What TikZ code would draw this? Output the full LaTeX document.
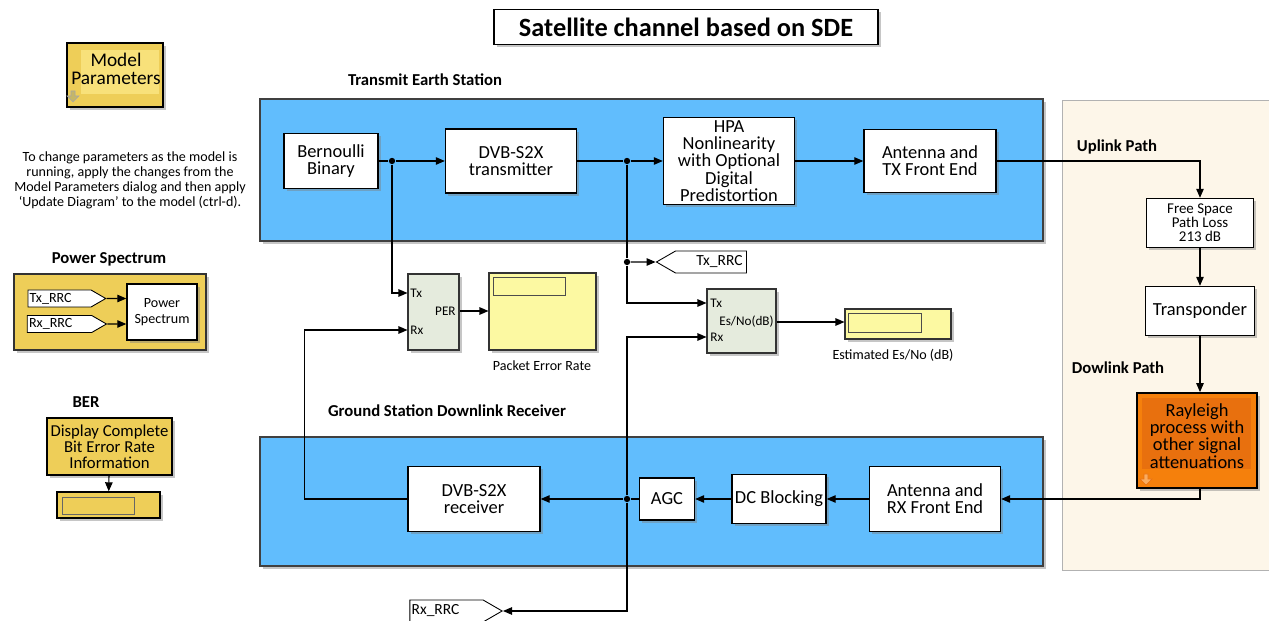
\documentclass[tikz,border=0pt]{standalone}
\usepackage{fontspec}
\setmainfont{Carlito}
\usetikzlibrary{arrows.meta,shadows,shapes.symbols}

\definecolor{stationblue}{RGB}{97,189,253}
\definecolor{satbeige}{RGB}{253,246,233}
\definecolor{paramyellow}{RGB}{238,206,88}
\definecolor{paramlight}{RGB}{248,225,122}
\definecolor{scopeyellow}{RGB}{252,249,162}
\definecolor{measgreen}{RGB}{229,235,221}
\definecolor{fadeorange}{RGB}{245,128,12}
\definecolor{fadeinner}{RGB}{232,112,14}
\definecolor{iconkhaki}{RGB}{196,182,104}
\definecolor{iconorange}{RGB}{250,172,96}

\begin{document}
\begin{tikzpicture}[x=0.02cm, y=-0.02cm, line width=0.6pt,
	every node/.style={font=\fontsize{10.5}{9.8}\selectfont, inner sep=1pt},
	>={Triangle[length=1.8mm, width=1.5mm]},
	shd/.style={drop shadow={shadow xshift=1.5pt, shadow yshift=-1.5pt, opacity=0.45}},
	wh/.style 2 args={minimum width=#1*0.02cm, minimum height=#2*0.02cm},
	block/.style={draw, fill=white, line width=0.8pt, align=center, shd},
	group/.style={draw=black!75, line width=0.7pt, shd},
	heading/.style={font=\fontsize{9.5}{10}\selectfont\bfseries},
	port/.style={font=\fontsize{7.5}{8}\selectfont, inner sep=0.5pt},
	tag/.style={draw, fill=white, signal, signal pointer angle=60, line width=0.5pt,
		font=\fontsize{8}{9}\selectfont},
	dot/.style={circle, fill, inner sep=0pt, minimum size=3.6pt},
	scr/.style={draw=black!70, fill=scopeyellow, line width=0.5pt}]
	\useasboundingbox (0,0) rectangle (1269,621);

	% title
	\node[block, wh={384}{35}, line width=1pt, font=\fontsize{15}{17}\selectfont\bfseries] (title) at (686,27) {Satellite channel based on SDE};

	% station groups and satellite area
	\node[group, fill=stationblue, wh={783}{142}] (txgrp) at (651.5,170) {};
	\node[group, fill=stationblue, wh={783}{129}] (rxgrp) at (651.5,501.5) {};
	\node[draw=black!30, fill=satbeige, line width=0.5pt, wh={230}{470}] (satgrp) at (1177,335) {};
	\node[heading] (txlbl) at (425,80) {Transmit Earth Station};
	\node[heading] (rxlbl) at (447,411) {Ground Station Downlink Receiver};
	\node[heading] (uplbl) at (1117,147) {Uplink Path};
	\node[heading] (dnlbl) at (1118,368) {Dowlink Path};

	% model parameters and notes
	\node[draw, fill=paramyellow, line width=0.8pt, wh={96}{64}, shd] (mpbox) at (115,75) {};
	\node[fill=paramlight, wh={78}{44}] (mpin) at (120,72) {};
	\node[font=\fontsize{11}{10.5}\selectfont, align=center] (mptext) at (116,69) {Model\\Parameters};
	\fill[iconkhaki, draw=black!35, line width=0.3pt] (71,91) -- (75,91) -- (75,96) -- (79,96) -- (73,102) -- (67,96) -- (71,96) -- cycle;
	\node[font=\fontsize{8}{8.6}\selectfont, align=center] (note) at (130,180) {To change parameters as the model is\\running, apply the changes from the\\Model Parameters dialog and then apply\\`Update Diagram' to the model (ctrl-d).};

	% power spectrum group
	\node[heading] (pslbl) at (109,259) {Power Spectrum};
	\node[draw=black!80, fill=paramyellow, line width=0.7pt, wh={192}{76}, shd] (psgrp) at (110,312) {};
	\node[tag, signal to=east, wh={75}{17}] (pstx) at (59.5,298.5) {Tx\_RRC\kern10pt};
	\node[tag, signal to=east, wh={75}{17}] (psrx) at (59.5,324) {Rx\_RRC\kern10pt};
	\node[block, wh={70}{56}, font=\fontsize{8}{8.8}\selectfont] (psblk) at (162,312) {Power\\Spectrum};
	\draw[->] (pstx) -- (pstx -| psblk.west);
	\draw[->] (psrx) -- (psrx -| psblk.west);

	% bit error rate
	\node[heading] (berlbl) at (86,402) {BER};
	\node[draw, fill=paramyellow, line width=0.8pt, wh={125}{57}, align=center, font=\fontsize{9.5}{9}\selectfont, shd] (berblk) at (109.5,446.5) {Display Complete\\Bit Error Rate\\Information};
	\node[draw, fill=paramyellow, line width=0.8pt, wh={103}{26}, shd] (berdisp) at (108.5,505) {};
	\node[draw=black!60, fill=paramyellow, line width=0.5pt, wh={72}{17}] (berscr) at (98,505.5) {};
	\draw[->] (berblk) -- (berdisp);

	% transmit chain
	\node[block, wh={94}{55}] (bern) at (331,161) {Bernoulli\\Binary};
	\node[block, wh={131}{64}] (dvbtx) at (511,161) {DVB-S2X\\transmitter};
	\node[block, wh={131}{87}] (hpa) at (729,161) {HPA\\Nonlinearity\\with Optional\\Digital\\Predistortion};
	\node[block, wh={132}{63}] (anttx) at (930,161) {Antenna and\\TX Front End};
	\node[dot] (j1) at (392,161) {};
	\node[dot] (j2) at (627,161) {};
	\draw (bern) -- (j1);
	\draw[->] (j1) -- (dvbtx);
	\draw (dvbtx) -- (j2);
	\draw[->] (j2) -- (hpa);
	\draw[->] (hpa) -- (anttx);

	% satellite path
	\node[block, wh={107}{49}, font=\fontsize{8.5}{8}\selectfont] (fspl) at (1200,223) {Free Space\\Path Loss\\213 dB};
	\node[block, wh={109}{49}] (transp) at (1200,311) {Transponder};
	\node[draw, fill=fadeorange, line width=1pt, wh={120}{95}, shd] (raylbox) at (1197,440.5) {};
	\node[fill=fadeinner, wh={109}{71}] (raylin) at (1196.5,433.5) {};
	\node[align=center] (rayl) at (1197,436) {Rayleigh\\process with\\other signal\\attenuations};
	\fill[iconorange, draw=fadeinner, line width=0.3pt] (1144,474) -- (1148,474) -- (1148,479) -- (1152,479) -- (1146,485) -- (1140,479) -- (1144,479) -- cycle;
	\draw[->] (anttx) -| (fspl);
	\draw[->] (fspl) -- (transp);
	\draw[->] (transp) -- (transp |- raylbox.north);

	% receive chain
	\node[block, wh={131}{65}] (antrx) at (935,499) {Antenna and\\RX Front End};
	\node[block, wh={94}{49}] (dcblk) at (779,499) {DC Blocking};
	\node[block, wh={55}{42}] (agc) at (667,499) {AGC};
	\node[block, wh={132}{65}] (dvbrx) at (474,499) {DVB-S2X\\receiver};
	\node[dot] (j4) at (627,499) {};
	\draw[->] (transp |- raylbox.south) |- (antrx);
	\draw[->] (antrx) -- (dcblk);
	\draw[->] (dcblk) -- (agc);
	\draw (agc) -- (j4);
	\draw[->] (j4) -- (dvbrx);

	% packet error rate
	\node[draw=black!80, fill=measgreen, line width=0.6pt, wh={51}{76}, shd] (per) at (433.5,312) {};
	\node[port, anchor=west] (perTx) at (409,293) {Tx};
	\node[port, anchor=east] (perOut) at (457,311) {PER};
	\node[port, anchor=west] (perRx) at (409,330) {Rx};
	\node[draw=black!80, fill=scopeyellow, line width=0.6pt, wh={107}{77}, shd] (perdisp) at (542.5,311.5) {};
	\node[scr, wh={72}{18}] (perscr) at (529,286) {};
	\node[port, font=\fontsize{8}{9}\selectfont] (perlbl) at (542,366) {Packet Error Rate};
	\draw[->] (j1) |- (per.west |- perTx);
	\draw[->] (dvbrx.west) -- ++(-103,0) |- (per.west |- perRx);
	\draw[->] (per.east |- perOut) -- (perdisp.west |- perOut);

	% Es/No estimate
	\node[dot] (j3) at (627,262) {};
	\node[tag, signal to=west, wh={90}{22}, font=\fontsize{8.8}{9}\selectfont] (txgoto) at (711,262) {\kern9.6pt Tx\_RRC};
	\node[draw=black!80, fill=measgreen, line width=0.6pt, wh={69}{64}, shd] (esno) at (741.5,321) {};
	\node[port, anchor=west] (esTx) at (709,303) {Tx};
	\node[port, anchor=east] (esOut) at (775,322) {Es/No(dB)};
	\node[port, anchor=west] (esRx) at (709,337) {Rx};
	\node[draw=black!80, fill=scopeyellow, line width=0.6pt, wh={106}{30}, shd] (esdisp) at (898,324) {};
	\node[scr, wh={73}{19}] (esscr) at (884.5,322.5) {};
	\node[port, font=\fontsize{8}{9}\selectfont] (eslbl) at (893,355) {Estimated Es/No (dB)};
	\draw (j2) -- (j3);
	\draw[->] (j3) -- (txgoto);
	\draw[->] (j3) |- (esno.west |- esTx);
	\draw[->] (esno.east |- esOut) -- (esdisp.west |- esOut);
	\draw[->] (j4) |- (esno.west |- esRx);

	% received signal tag
	\node[tag, signal to=east, wh={87}{22}, font=\fontsize{8.8}{9}\selectfont] (rxgoto) at (446.5,611) {Rx\_RRC\kern12.5pt};
	\draw[->] (j4) |- (rxgoto);
\end{tikzpicture}
\end{document}
